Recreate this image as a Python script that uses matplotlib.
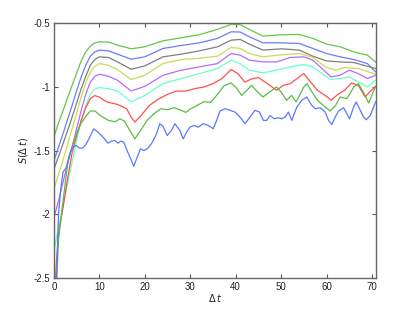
import matplotlib
matplotlib.use("Agg")
import matplotlib.pyplot as plt

plt.rcParams['font.family'] = ['Liberation Sans', 'DejaVu Sans']
plt.rcParams['axes.unicode_minus'] = False

# ---- data ----
x_smooth = [0, 1, 2, 3, 4, 5, 6, 7, 8, 9, 10, 12, 14, 17, 20, 24, 28, 32, 36, 39, 41, 43, 46, 50, 54, 57, 60, 63, 66, 69, 70.8]
s1 = [-1.39, -1.284, -1.187, -1.084, -0.987, -0.89, -0.795, -0.724, -0.679, -0.653, -0.645, -0.647, -0.671, -0.70, -0.684,
      -0.637, -0.613, -0.589, -0.547, -0.508, -0.51, -0.547, -0.60, -0.589, -0.587, -0.618, -0.663, -0.684, -0.724, -0.75, -0.803]
s2 = [-1.579, -1.474, -1.368, -1.255, -1.145, -1.03, -0.921, -0.829, -0.758, -0.724, -0.71, -0.716, -0.742, -0.782, -0.763,
      -0.697, -0.674, -0.653, -0.618, -0.566, -0.568, -0.605, -0.653, -0.653, -0.658, -0.697, -0.737, -0.763, -0.784, -0.816, -0.882]
s3 = [-1.645, -1.547, -1.447, -1.342, -1.237, -1.126, -1.013, -0.916, -0.829, -0.784, -0.763, -0.768, -0.803, -0.861, -0.834,
      -0.763, -0.742, -0.716, -0.684, -0.632, -0.626, -0.663, -0.71, -0.70, -0.71, -0.758, -0.795, -0.803, -0.808, -0.837, -0.855]

x4 = [0, 1, 2, 3, 4, 5, 6, 7, 8, 9, 10, 12, 14, 17, 20, 24, 28, 32, 36, 39, 41, 43, 46, 50, 54, 57, 60, 62, 64, 67, 70.8]
s4 = [-1.80, -1.689, -1.574, -1.453, -1.329, -1.205, -1.079, -0.968, -0.882, -0.837, -0.816, -0.829, -0.863, -0.942, -0.908,
      -0.816, -0.784, -0.774, -0.758, -0.689, -0.697, -0.737, -0.763, -0.747, -0.737, -0.768, -0.847, -0.868, -0.847, -0.855, -0.90]

x56 = [0, 1, 2, 3, 4, 5, 6, 7, 8, 9, 10, 12, 14, 17, 20, 24, 28, 32, 36, 39, 41, 43, 46, 49, 52, 55, 57, 59, 61, 63, 65, 67, 69, 70.8]
s5 = [-2.029, -1.895, -1.75, -1.605, -1.468, -1.329, -1.184, -1.058, -0.961, -0.916, -0.90, -0.916, -0.947, -1.032, -0.995,
      -0.908, -0.868, -0.842, -0.816, -0.737, -0.75, -0.789, -0.803, -0.803, -0.768, -0.763, -0.789, -0.855, -0.921, -0.908,
      -0.868, -0.895, -0.934, -0.908]
s6 = [-2.29, -2.105, -1.934, -1.763, -1.592, -1.421, -1.263, -1.145, -1.058, -1.016, -1.005, -1.013, -1.032, -1.118, -1.066,
      -0.974, -0.934, -0.895, -0.855, -0.789, -0.816, -0.868, -0.889, -0.868, -0.842, -0.824, -0.842, -0.895, -0.942, -0.934,
      -0.921, -0.961, -1.0, -0.947]

x7 = [0, 0.5, 1, 2, 3, 4, 5, 6, 7, 8, 9, 10, 11, 12, 14, 16, 17, 17.8, 19, 21, 23, 25, 27, 29, 31, 33, 35, 37, 39, 40.5,
      42, 43.5, 45, 47, 49, 50.5, 52, 54, 55, 56.5, 58, 60, 61, 62.5, 64, 65.5, 67, 68.5, 69.5, 70.8]
s7 = [-2.8, -2.4, -2.15, -1.95, -1.72, -1.52, -1.38, -1.263, -1.163, -1.092, -1.068, -1.079, -1.105, -1.121, -1.137, -1.171,
      -1.237, -1.276, -1.232, -1.145, -1.095, -1.058, -1.032, -1.032, -1.013, -1.0, -0.974, -0.934, -0.863, -0.895, -0.961,
      -0.937, -0.926, -0.974, -1.026, -0.987, -0.974, -0.921, -0.895, -0.961, -1.026, -1.074, -1.105, -1.058, -1.026, -0.968,
      -0.987, -1.079, -1.04, -0.995]

x8 = [0, 0.5, 1, 2, 3, 4, 5, 6, 7, 8, 9, 10.5, 12, 13.5, 14.5, 15.5, 16.5, 17.8, 19, 20.5, 22, 23.5, 25, 26.5, 28, 29, 30,
      31.5, 33, 34.5, 36, 37.5, 39, 40.3, 41.3, 42.5, 43.5, 44.5, 46, 47.5, 49, 50, 51.2, 52.3, 53.3, 55, 55.7, 56.8, 58,
      59.3, 60.8, 62, 63, 64.5, 66, 67, 68, 69.3, 70.8]
s8 = [-3.0, -2.6, -2.2, -1.9, -1.605, -1.474, -1.363, -1.284, -1.232, -1.189, -1.189, -1.232, -1.263, -1.274, -1.25, -1.268,
      -1.329, -1.408, -1.347, -1.263, -1.211, -1.171, -1.179, -1.163, -1.184, -1.20, -1.174, -1.145, -1.116, -1.121, -1.058,
      -0.989, -0.968, -1.013, -1.066, -1.026, -0.987, -1.026, -1.079, -1.039, -1.0, -1.039, -1.105, -1.066, -1.118, -1.0,
      -0.974, -1.039, -1.105, -1.145, -1.189, -1.145, -1.079, -1.092, -1.0, -0.974, -1.032, -1.126, -0.995]

x9 = [0, 0.5, 1, 1.5, 1.99, 2.72, 3.46, 4.19, 4.93, 5.66, 6.4, 7.13, 7.87, 8.75, 9.71, 10.81, 11.91, 12.65, 13.38, 14.12,
      14.71, 15.37, 16.1, 17.06, 17.57, 18.31, 19.04, 19.78, 20.51, 21.47, 22.57, 23.31, 24.04, 24.93, 25.88, 26.62, 27.72,
      28.46, 29.19, 29.93, 30.81, 31.76, 32.87, 33.97, 35.07, 35.81, 36.54, 37.65, 38.75, 39.85, 40.96, 42.06, 43.16, 44.26,
      45.22, 46.1, 46.84, 47.57, 48.46, 49.41, 50.15, 50.88, 51.62, 52.35, 53.46, 54.56, 55.66, 56.76, 57.5, 58.6, 59.71,
      60.44, 61.18, 61.91, 62.65, 63.75, 64.49, 65.07, 65.96, 66.54, 67.43, 68.16, 68.75, 69.63, 70.81]
s9 = [-3.3, -2.6, -2.0, -1.8, -1.671, -1.632, -1.526, -1.468, -1.461, -1.482, -1.479, -1.447, -1.395, -1.329, -1.355, -1.395,
      -1.442, -1.426, -1.421, -1.442, -1.426, -1.434, -1.50, -1.579, -1.624, -1.553, -1.487, -1.50, -1.487, -1.447, -1.368,
      -1.289, -1.311, -1.382, -1.342, -1.289, -1.342, -1.408, -1.355, -1.316, -1.303, -1.316, -1.289, -1.303, -1.329, -1.263,
      -1.189, -1.171, -1.184, -1.197, -1.237, -1.289, -1.237, -1.184, -1.197, -1.263, -1.263, -1.224, -1.25, -1.242, -1.25,
      -1.237, -1.197, -1.263, -1.158, -1.105, -1.079, -1.145, -1.171, -1.163, -1.197, -1.263, -1.295, -1.237, -1.189, -1.163,
      -1.211, -1.25, -1.158, -1.118, -1.184, -1.237, -1.258, -1.224, -1.118]

series = [
    (x_smooth, s1, '#63c64a'),
    (x_smooth, s2, '#6a7cff'),
    (x_smooth, s3, '#7f7f7f'),
    (x4, s4, '#c9dc55'),
    (x56, s5, '#b56bff'),
    (x56, s6, '#6affcc'),
    (x7, s7, '#ff4f4f'),
    (x8, s8, '#5cbb45'),
    (x9, s9, '#5b78ff'),
]

xticks = [0, 10, 20, 30, 40, 50, 60, 70]
yticks = [-2.5, -2, -1.5, -1, -0.5]
ytick_labels = ['-2.5', '-2', '-1.5', '-1', '-0.5']

fig = plt.figure(figsize=(4.15, 3.12), dpi=100)
ax = fig.add_axes([0.13, 0.11, 0.775, 0.815])
for xs, ys, c in series:
    ax.plot(xs, ys, color=c, lw=0.9)

ax.set_xlim(0, 70.8)
ax.set_ylim(-2.5, -0.5)
ax.set_xticks(xticks)
ax.set_xticklabels([str(t) for t in xticks])
ax.set_yticks(yticks)
ax.set_yticklabels(ytick_labels)
ax.tick_params(direction='in', length=3, width=0.8, labelsize=7, colors='#555555',
               labelcolor='#222222', top=True, right=True, pad=3)
for sp in ax.spines.values():
    sp.set_color('#666666')
    sp.set_linewidth(1.0)
ax.set_xlabel(r'$\Delta\, t$', fontsize=7, color='#222222')
ax.set_ylabel(r'$S(\Delta\, t)$', fontsize=7, color='#222222')
ax.xaxis.set_label_coords(0.5, -0.055)
ax.yaxis.set_label_coords(-0.075, 0.5)

fig.savefig('out.png', dpi=100)
